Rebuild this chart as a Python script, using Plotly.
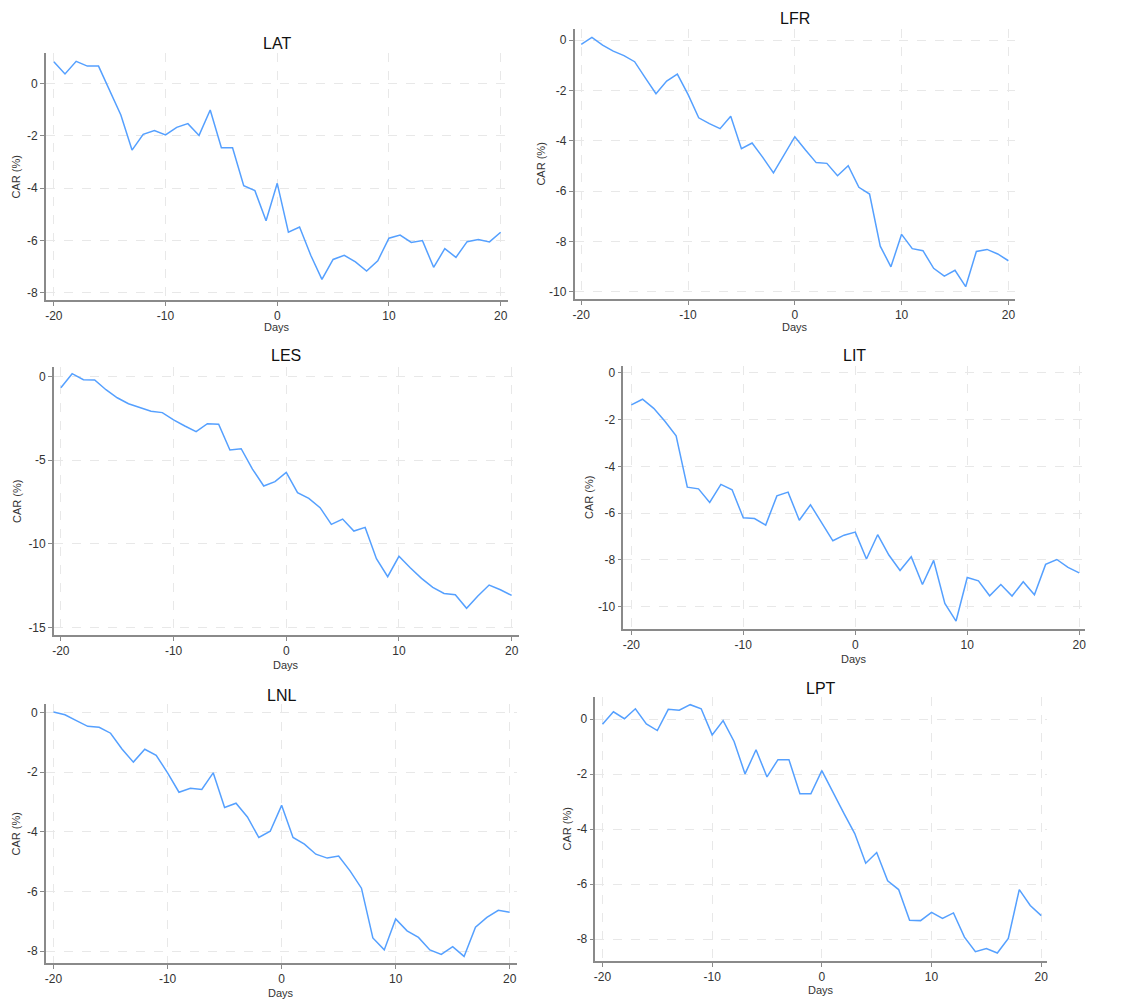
import plotly.graph_objects as go

# The page places the figure 8 px from the top-left corner (default body margin),
# so layout positions below are measured on the page and shifted by OFF.
PAGE_W, PAGE_H = 1142, 1003
OFF = 8
W, H = PAGE_W - OFF, PAGE_H - OFF

days = list(range(-20, 21))

lat = [0.83, 0.36, 0.84, 0.66, 0.66, -0.28, -1.21, -2.55, -1.95, -1.80, -1.97, -1.68, -1.54, -1.99,
       -1.02, -2.46, -2.46, -3.91, -4.10, -5.25, -3.82, -5.69, -5.49, -6.57, -7.49, -6.73, -6.57,
       -6.82, -7.17, -6.78, -5.92, -5.80, -6.08, -6.01, -7.03, -6.32, -6.65, -6.05, -5.97, -6.06, -5.69]
lfr = [-0.17, 0.11, -0.20, -0.44, -0.62, -0.86, -1.50, -2.13, -1.63, -1.35, -2.16, -3.09, -3.32, -3.52,
       -3.03, -4.32, -4.09, -4.66, -5.28, -4.57, -3.84, -4.37, -4.87, -4.90, -5.39, -4.99, -5.85,
       -6.12, -8.19, -9.01, -7.72, -8.29, -8.37, -9.07, -9.38, -9.15, -9.80, -8.40, -8.32, -8.50, -8.77]
les = [-0.66, 0.18, -0.18, -0.20, -0.78, -1.26, -1.62, -1.86, -2.07, -2.15, -2.59, -2.95, -3.29, -2.81,
       -2.85, -4.39, -4.31, -5.53, -6.54, -6.28, -5.73, -6.94, -7.28, -7.84, -8.84, -8.52, -9.24,
       -9.02, -10.89, -11.97, -10.75, -11.43, -12.07, -12.61, -12.97, -13.05, -13.86, -13.13, -12.47, -12.75, -13.09]
lit = [-1.37, -1.13, -1.52, -2.07, -2.69, -4.89, -4.96, -5.54, -4.77, -5.00, -6.20, -6.23, -6.51, -5.26,
       -5.10, -6.30, -5.64, -6.44, -7.18, -6.94, -6.81, -7.96, -6.92, -7.79, -8.45, -7.86, -9.05,
       -8.02, -9.86, -10.61, -8.75, -8.89, -9.53, -9.05, -9.54, -8.93, -9.49, -8.19, -7.98, -8.32, -8.55]
lnl = [0.02, -0.07, -0.27, -0.46, -0.49, -0.69, -1.22, -1.66, -1.23, -1.43, -2.02, -2.67, -2.54, -2.58,
       -2.02, -3.18, -3.04, -3.50, -4.19, -3.98, -3.11, -4.19, -4.41, -4.75, -4.88, -4.81, -5.31,
       -5.89, -7.56, -7.96, -6.92, -7.32, -7.54, -7.96, -8.11, -7.85, -8.18, -7.20, -6.87, -6.63, -6.70]
lpt = [-0.18, 0.27, 0.02, 0.38, -0.17, -0.41, 0.36, 0.33, 0.53, 0.38, -0.57, -0.05, -0.81, -1.99,
       -1.11, -2.10, -1.47, -1.47, -2.71, -2.71, -1.87, -2.67, -3.42, -4.16, -5.24, -4.85, -5.88,
       -6.20, -7.32, -7.33, -7.03, -7.25, -7.05, -7.93, -8.46, -8.35, -8.51, -7.98, -6.20, -6.78, -7.15]

titles = ["LAT", "LFR", "LES", "LIT", "LNL", "LPT"]
series = [lat, lfr, les, lit, lnl, lpt]
x_ticks = [-20, -10, 0, 10, 20]
y_ticks = [[0, -2, -4, -6, -8], [0, -2, -4, -6, -8, -10], [0, -5, -10, -15],
           [0, -2, -4, -6, -8, -10], [0, -2, -4, -6, -8], [0, -2, -4, -6, -8]]
y_tick_text = [[str(v) for v in t] for t in y_ticks]
x_tick_text = [str(v) for v in x_ticks]

# panel layout in page pixels: left, right, top, bottom of axis box; axis ranges; label positions
panels = [
    dict(l=44, r=507, t=53, b=300, xr=[-20.71, 20.63], yr=[-8.28, 1.16], ty=44, dy=327, cx=14),
    dict(l=574, r=1016, t=29, b=299, xr=[-20.63, 20.65], yr=[-10.29, 0.44], ty=18, dy=327, cx=540),
    dict(l=52, r=518, t=367, b=635, xr=[-20.62, 20.62], yr=[-15.46, 0.58], ty=355, dy=665, cx=15),
    dict(l=623, r=1086, t=366, b=629, xr=[-20.71, 20.53], yr=[-10.95, 0.29], ty=355, dy=659, cx=588),
    dict(l=44, r=516, t=704, b=963, xr=[-20.67, 20.61], yr=[-8.40, 0.29], ty=695, dy=993, cx=14),
    dict(l=595, r=1048, t=697, b=961, xr=[-20.64, 20.55], yr=[-8.80, 0.81], ty=688, dy=990, cx=566),
]


def px(v):
    return (v - OFF) / W


def py(v):
    return 1 - (v - OFF) / H


LINE = "#55a0ff"
AX = "#8a8a8a"
TXT = "#333333"
FONT = "Liberation Sans, Arial, sans-serif"

fig = go.Figure()
annotations = []
for i, (p, name, ys) in enumerate(zip(panels, titles, series)):
    k = "" if i == 0 else str(i + 1)
    fig.add_trace(go.Scatter(x=days, y=ys, mode="lines", line=dict(color=LINE, width=1.5),
                             xaxis="x" + k, yaxis="y" + k, showlegend=False, hoverinfo="x+y"))
    common = dict(showline=True, linecolor=AX, linewidth=1.5, ticks="outside", ticklen=4,
                  tickcolor=AX, tickwidth=1, showgrid=True, gridcolor="#e8e8e8", griddash="dash",
                  gridwidth=1, zeroline=False, tickfont=dict(family=FONT, size=12, color=TXT),
                  fixedrange=True)
    fig.update_layout(**{
        "xaxis" + k: dict(domain=[px(p["l"]), px(p["r"])], range=p["xr"], anchor="y" + k,
                          tickmode="array", tickvals=x_ticks, ticktext=x_tick_text, **common),
        "yaxis" + k: dict(domain=[py(p["b"]), py(p["t"])], range=p["yr"], anchor="x" + k,
                          tickmode="array", tickvals=y_ticks[i], ticktext=y_tick_text[i], **common),
    })
    cxm = px((p["l"] + p["r"]) / 2)
    annotations.append(dict(text=name, x=cxm, y=py(p["ty"]), xref="paper", yref="paper",
                            showarrow=False, xanchor="center", yanchor="middle",
                            font=dict(family=FONT, size=16, color="#111111")))
    annotations.append(dict(text="Days", x=cxm, y=py(p["dy"]), xref="paper", yref="paper",
                            showarrow=False, xanchor="center", yanchor="middle",
                            font=dict(family=FONT, size=11, color=TXT)))
    annotations.append(dict(text="CAR (%)", x=px(p["cx"]), y=py((p["t"] + p["b"]) / 2),
                            xref="paper", yref="paper", showarrow=False, textangle=-90,
                            xanchor="center", yanchor="middle",
                            font=dict(family=FONT, size=11, color=TXT)))

fig.update_layout(width=W, height=H, margin=dict(l=0, r=0, t=0, b=0),
                  paper_bgcolor="white", plot_bgcolor="white", annotations=annotations,
                  font=dict(family=FONT))

fig.write_html("out.html")
